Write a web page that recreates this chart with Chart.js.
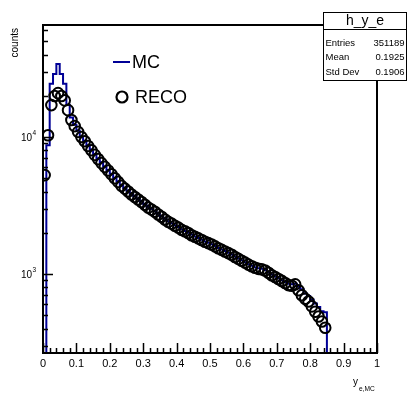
<!DOCTYPE html>
<html>
<head>
<meta charset="utf-8">
<script src="https://cdn.jsdelivr.net/npm/chart.js@4.4.1/dist/chart.umd.min.js"></script>
<style>
  html, body { margin: 0; padding: 0; background: #fff; }
  #wrap { position: relative; width: 411px; height: 395px; }
</style>
</head>
<body>
<div id="wrap"><canvas id="c"></canvas></div>
<script>
// histogram binning (h_y_e): 100 bins on [0, 1]
const nBins = 100;
const xLow = 0;
const xHigh = 1;

// MC truth counts per bin
const mcCounts = [
  0, 8700, 24500, 28800, 34100, 28800, 24500, 17200, 13900, 12300,
  11100, 10100, 9400, 8700, 8100, 7500, 7000, 6550, 6100, 5750,
  5400, 5050, 4750, 4450, 4250, 4050, 3850, 3700, 3530, 3380,
  3230, 3090, 2980, 2870, 2750, 2640, 2530, 2430, 2350, 2270,
  2200, 2120, 2060, 2000, 1940, 1880, 1830, 1780, 1730, 1690,
  1650, 1600, 1550, 1510, 1470, 1430, 1390, 1340, 1300, 1260,
  1220, 1180, 1150, 1120, 1100, 1090, 1070, 1030, 990, 960,
  930, 900, 875, 850, 840, 850, 810, 775, 720, 690,
  650, 610, 575, 535, 525, 0, 0, 0, 0, 0,
  0, 0, 0, 0, 0, 0, 0, 0, 0, 0
];

// reconstructed counts per bin
const recoCounts = [
  5270, 10300, 17100, 19900, 20900, 19900, 18500, 15700, 13300, 12000,
  10900, 10000, 9300, 8600, 8000, 7400, 6900, 6450, 6050, 5700,
  5350, 5000, 4700, 4400, 4200, 4000, 3800, 3650, 3500, 3350,
  3200, 3050, 2950, 2850, 2720, 2620, 2500, 2400, 2330, 2250,
  2180, 2100, 2050, 1990, 1920, 1870, 1820, 1770, 1720, 1680,
  1640, 1590, 1540, 1500, 1460, 1420, 1380, 1330, 1290, 1250,
  1210, 1170, 1140, 1110, 1090, 1080, 1060, 1020, 980, 950,
  920, 890, 860, 830, 820, 840, 760, 700, 660, 630,
  580, 530, 490, 450, 405, 0, 0, 0, 0, 0,
  0, 0, 0, 0, 0, 0, 0, 0, 0, 0
];

const xTickLabels = ['0', '0.1', '0.2', '0.3', '0.4', '0.5', '0.6', '0.7', '0.8', '0.9', '1'];
const yDecades = [3, 4];
const yMin = 265;
const yMax = 65700;

const statsTitle = 'h_y_e';
const statsRows = [['Entries', '351189'], ['Mean', '0.1925'], ['Std Dev', '0.1906']];

const FONT = '"Liberation Sans", Arial, Helvetica, sans-serif';
const MC_COLOR = '#000096';

const binWidth = (xHigh - xLow) / nBins;

// step outline: start on the floor, then one point per bin low edge
const mcPoints = [{ x: xLow, y: yMin }];
mcCounts.forEach((v, i) => mcPoints.push({ x: xLow + i * binWidth, y: Math.max(v, yMin) }));
mcPoints.push({ x: xHigh, y: Math.max(mcCounts[nBins - 1], yMin) });

// markers at bin centres, empty bins skipped
const recoPoints = [];
recoCounts.forEach((v, i) => {
  if (v > 0) recoPoints.push({ x: xLow + (i + 0.5) * binWidth, y: v });
});

// frame, inward ticks, labels, legend and stats box
const rootStyle = {
  id: 'rootStyle',
  afterDraw(chart) {
    const { ctx, chartArea: a, scales: { x, y } } = chart;
    ctx.save();
    ctx.strokeStyle = '#000';
    ctx.fillStyle = '#000';

    // x ticks every 0.02, long ones every 0.1
    ctx.lineWidth = 1.5;
    ctx.beginPath();
    for (let k = 0; k <= 50; k++) {
      const px = Math.round(x.getPixelForValue(k * 0.02)) + 0.5;
      const len = k % 5 === 0 ? 10 : 5;
      ctx.moveTo(px, a.bottom);
      ctx.lineTo(px, a.bottom - len);
    }
    // y ticks, log decades with 2..9 minors
    for (let d = 2; d <= 4; d++) {
      for (let m = 1; m <= 9; m++) {
        const v = m * Math.pow(10, d);
        if (v < yMin || v > yMax) continue;
        const py = Math.round(y.getPixelForValue(v)) + 0.5;
        const len = m === 1 ? 10 : 5;
        ctx.moveTo(a.left, py);
        ctx.lineTo(a.left + len, py);
      }
    }
    ctx.stroke();

    // frame
    ctx.lineWidth = 2;
    ctx.strokeRect(a.left, a.top, a.right - a.left, a.bottom - a.top);

    // x tick labels
    ctx.font = '11px ' + FONT;
    ctx.textAlign = 'center';
    ctx.textBaseline = 'middle';
    xTickLabels.forEach((t, k) => {
      ctx.fillText(t, x.getPixelForValue(k / 10), a.bottom + 11);
    });

    // y decade labels 10^n
    yDecades.forEach(d => {
      const py = y.getPixelForValue(Math.pow(10, d));
      ctx.font = '10px ' + FONT;
      ctx.textAlign = 'right';
      ctx.textBaseline = 'middle';
      ctx.fillText('10', 32, py + 1);
      ctx.font = '6.5px ' + FONT;
      ctx.textAlign = 'left';
      ctx.fillText(String(d), 32.5, py - 3.5);
    });

    // axis titles
    ctx.save();
    ctx.translate(15, a.top + 3);
    ctx.rotate(-Math.PI / 2);
    ctx.font = '10px ' + FONT;
    ctx.textAlign = 'right';
    ctx.textBaseline = 'middle';
    ctx.fillText('counts', 0, 0);
    ctx.restore();

    ctx.textAlign = 'left';
    ctx.textBaseline = 'alphabetic';
    ctx.font = '10px ' + FONT;
    ctx.fillText('y', 353, 385);
    ctx.font = '6.6px ' + FONT;
    ctx.fillText('e,MC', 359, 391);

    // legend
    ctx.strokeStyle = MC_COLOR;
    ctx.lineWidth = 2;
    ctx.beginPath();
    ctx.moveTo(113, 62);
    ctx.lineTo(130, 62);
    ctx.stroke();
    ctx.strokeStyle = '#000';
    ctx.lineWidth = 2.2;
    ctx.beginPath();
    ctx.arc(122, 97, 5.5, 0, Math.PI * 2);
    ctx.stroke();
    ctx.font = '18px ' + FONT;
    ctx.textBaseline = 'middle';
    ctx.fillText('MC', 132, 63);
    ctx.fillText('RECO', 135, 98);

    // stats box
    const bx = 323.5, by = 12.5, bw = 83, bh = 68;
    ctx.fillStyle = '#fff';
    ctx.fillRect(bx, by, bw, bh);
    ctx.lineWidth = 1;
    ctx.strokeStyle = '#000';
    ctx.strokeRect(bx, by, bw, bh);
    ctx.beginPath();
    ctx.moveTo(bx, 29.5);
    ctx.lineTo(bx + bw, 29.5);
    ctx.stroke();
    ctx.fillStyle = '#000';
    ctx.font = '14px ' + FONT;
    ctx.textAlign = 'center';
    ctx.fillText(statsTitle, bx + bw / 2, 21);
    ctx.font = '9.5px ' + FONT;
    statsRows.forEach(([k, v], i) => {
      const ty = 43.5 + i * 14.2;
      ctx.textAlign = 'left';
      ctx.fillText(k, bx + 2, ty);
      ctx.textAlign = 'right';
      ctx.fillText(v, bx + bw - 2, ty);
    });

    ctx.restore();
  }
};

new Chart(document.getElementById('c'), {
  type: 'line',
  data: {
    datasets: [
      {
        label: 'RECO',
        data: recoPoints,
        showLine: false,
        pointStyle: 'circle',
        pointRadius: 5.3,
        pointBorderWidth: 2,
        pointBorderColor: '#000',
        pointBackgroundColor: 'rgba(0,0,0,0)',
        order: 0
      },
      {
        label: 'MC',
        data: mcPoints,
        stepped: 'before',
        borderColor: MC_COLOR,
        borderWidth: 2,
        pointRadius: 0,
        fill: false,
        order: 1
      }
    ]
  },
  options: {
    responsive: true,
    maintainAspectRatio: false,
    animation: false,
    events: [],
    layout: { padding: { left: 43, right: 34, top: 25, bottom: 42 } },
    plugins: { legend: { display: false }, tooltip: { enabled: false } },
    scales: {
      x: { type: 'linear', min: xLow, max: xHigh, display: false },
      y: { type: 'logarithmic', min: yMin, max: yMax, bounds: 'data', display: false }
    }
  },
  plugins: [rootStyle]
});
</script>
</body>
</html>
